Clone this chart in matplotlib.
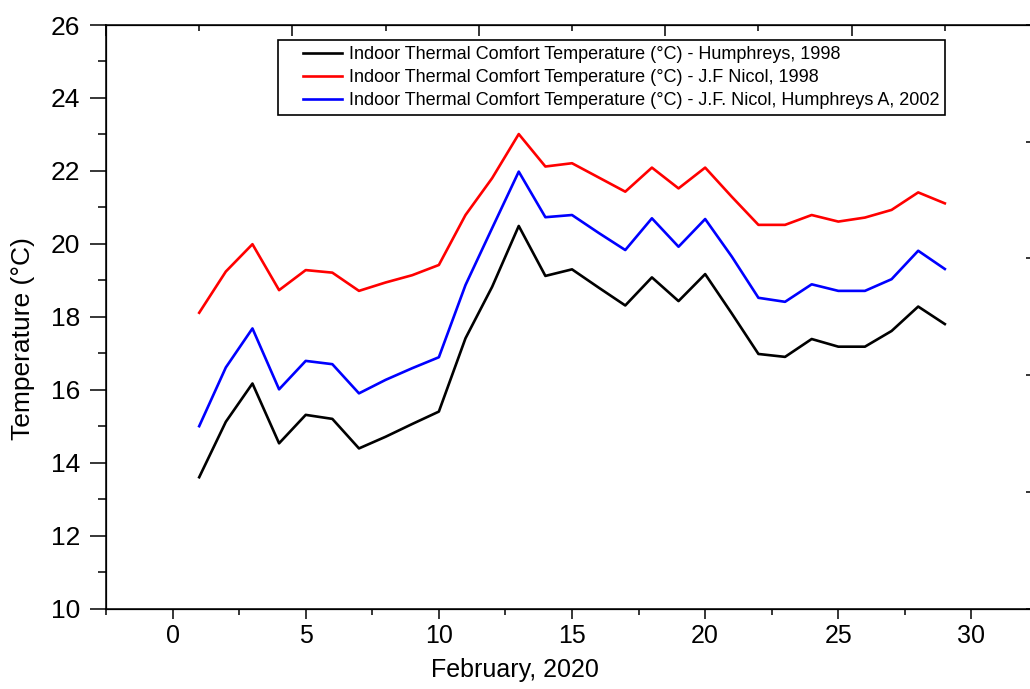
import numpy as np
import matplotlib
matplotlib.use('Agg')
import matplotlib.pyplot as plt
from matplotlib.ticker import MultipleLocator
from matplotlib.legend_handler import HandlerLine2D

plt.rcParams['font.family'] = ['Liberation Sans', 'DejaVu Sans']

days = list(range(1, 30))
humphreys = [13.60, 15.12, 16.17, 14.53, 15.31, 15.20, 14.39, 14.71, 15.06, 15.40,
             17.41, 18.82, 20.49, 19.12, 19.30, 18.80, 18.31, 19.08, 18.43, 19.17,
             18.09, 16.98, 16.90, 17.39, 17.18, 17.18, 17.61, 18.28, 17.80]
nicol_1998 = [18.11, 19.24, 19.99, 18.73, 19.28, 19.21, 18.71, 18.94, 19.14, 19.42,
              20.79, 21.80, 23.01, 22.12, 22.21, 21.82, 21.43, 22.09, 21.52, 22.09,
              21.29, 20.52, 20.52, 20.79, 20.61, 20.72, 20.93, 21.41, 21.11]
nicol_2002 = [15.00, 16.61, 17.68, 16.01, 16.79, 16.70, 15.90, 16.27, 16.59, 16.89,
              18.87, 20.43, 21.98, 20.73, 20.79, 20.30, 19.83, 20.70, 19.92, 20.68,
              19.65, 18.52, 18.41, 18.89, 18.71, 18.71, 19.03, 19.81, 19.31]

labels = ['Indoor Thermal Comfort Temperature (°C) - Humphreys, 1998',
          'Indoor Thermal Comfort Temperature (°C) - J.F Nicol, 1998',
          'Indoor Thermal Comfort Temperature (°C) - J.F. Nicol, Humphreys A, 2002']


class ShortLine(HandlerLine2D):
    # legend line drawn only over the right part of the handle box
    def get_xdata(self, legend, xdescent, ydescent, width, height, fontsize):
        x = np.array([-xdescent + 0.33 * width, -xdescent + width])
        return x, x


fig = plt.figure(figsize=(10.30, 6.89), dpi=100)
ax = fig.add_axes([0.1029, 0.1168, 0.9049, 0.8469])

ax.plot(days, humphreys, color='black', lw=1.9, label=labels[0])
ax.plot(days, nicol_1998, color='#ff0000', lw=1.9, label=labels[1])
ax.plot(days, nicol_2002, color='#0000ff', lw=1.9, label=labels[2])

ax.set_xlim(-2.5, 32.5)
ax.set_ylim(10, 26)
ax.set_xticks([0, 5, 10, 15, 20, 25, 30])
ax.xaxis.set_minor_locator(MultipleLocator(2.5))
ax.set_yticks(np.arange(10, 27, 2))
ax.yaxis.set_minor_locator(MultipleLocator(1))
ax.tick_params(top=False, right=False, which='both', width=1.1)
ax.tick_params(axis='x', which='major', direction='out', length=7, pad=4.5, labelsize=18)
ax.tick_params(axis='x', which='minor', direction='out', length=4.5)
ax.tick_params(axis='y', which='major', direction='out', length=11.5, pad=7, labelsize=19)
ax.tick_params(axis='y', which='minor', direction='out', length=6)
for s in ax.spines.values():
    s.set_linewidth(1.1)

ax.set_xlabel('February, 2020', fontsize=18)
ax.set_ylabel('Temperature (°C)', fontsize=19)
ax.xaxis.set_label_coords(0.439, -0.0848)
ax.yaxis.set_label_coords(-0.0762, 0.462)

# top/right frame ticks (independent scales, no labels)
axt = ax.twiny()
axt.set_xlim(0, 5)
axt.set_xticks(range(6))
axt.xaxis.set_minor_locator(MultipleLocator(0.5))
axt.tick_params(axis='x', which='major', direction='in', length=8, width=1.1,
                labeltop=False)
axt.tick_params(axis='x', which='minor', direction='in', length=4, width=1.1)
axr = ax.twinx()
axr.set_ylim(0, 5)
axr.set_yticks(range(6))
axr.tick_params(axis='y', direction='in', length=9, width=1.1, labelright=False)

leg = ax.legend(loc='upper left', bbox_to_anchor=(0.1845, 0.9743), borderaxespad=0,
                fontsize=13, handlelength=3.2, handletextpad=0.4, labelspacing=0.33,
                borderpad=0.33, fancybox=False, framealpha=1, edgecolor='black',
                handler_map={matplotlib.lines.Line2D: ShortLine()})
leg.get_frame().set_linewidth(1.2)

fig.savefig('out.png', dpi=100)
